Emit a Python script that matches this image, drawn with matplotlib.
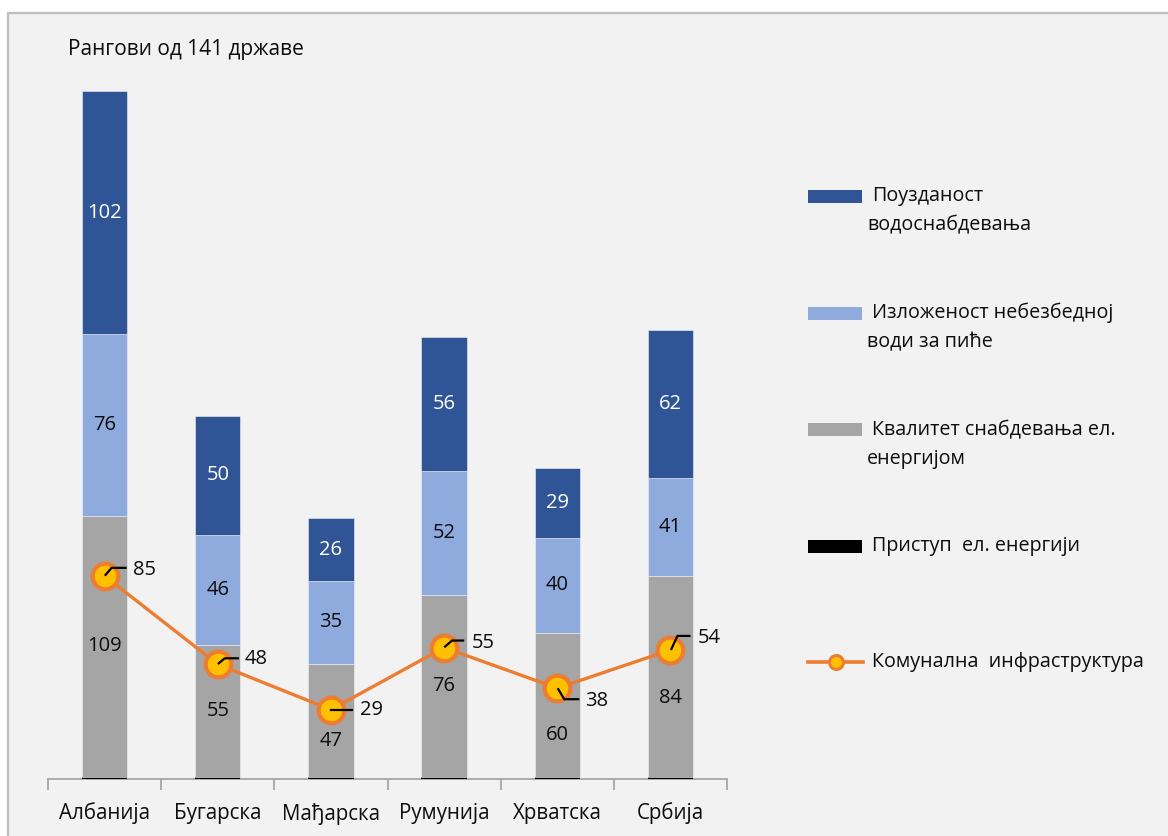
import matplotlib
matplotlib.use("Agg")
import matplotlib.pyplot as plt
import matplotlib.transforms as mtransforms
from matplotlib.patches import Rectangle
from matplotlib.lines import Line2D

plt.rcParams['font.family'] = ['Open Sans', 'DejaVu Sans']

# ---- data -------------------------------------------------------------
countries = ["Албанија", "Бугарска", "Мађарска", "Румунија", "Хрватска", "Србија"]
access_electricity = [1, 1, 1, 1, 1, 1]          # Приступ ел. енергији
electricity_quality = [109, 55, 47, 76, 60, 84]  # Квалитет снабдевања ел. енергијом
unsafe_water = [76, 46, 35, 52, 40, 41]          # Изложеност небезбедној води за пиће
water_reliability = [102, 50, 26, 56, 29, 62]    # Поузданост водоснабдевања
utility_infrastructure = [85, 48, 29, 55, 38, 54]  # Комунална инфраструктура

legend_labels = [
    "Поузданост\nводоснабдевања",
    "Изложеност небезбедној\nводи за пиће",
    "Квалитет снабдевања ел.\nенергијом",
    "Приступ  ел. енергији",
    "Комунална  инфраструктура",
]
title = "Рангови од 141 државе"

# ---- style ------------------------------------------------------------
C_DARK = "#2f5597"
C_LIGHT = "#8faadc"
C_GRAY = "#a5a5a5"
C_BLACK = "#000000"
C_ORANGE = "#ed7d31"
C_YELLOW = "#ffc000"
BG = "#f2f2f2"
TXT = "#0d0d0d"
FS = 14.5
FS_LEG = 14.2

W, H = 1168, 836
fig = plt.figure(figsize=(W / 100, H / 100), dpi=100, facecolor="white")

# chart area panel with a thin border
fig.add_artist(Rectangle((8 / W, -0.1), 1.2, 1 - 13 / H + 0.1,
                         transform=fig.transFigure, facecolor=BG,
                         edgecolor="#bfbfbf", linewidth=1.6, zorder=0))

ax = fig.add_axes([48 / W, (H - 779) / H, 679 / W, 717 / H])
ax.set_facecolor("none")
ax.set_xlim(-0.5, len(countries) - 0.5)
ax.set_ylim(0, 300)

x = list(range(len(countries)))
bw = 0.4

# stacked bars
b0 = [0] * len(countries)
ax.bar(x, access_electricity, bw, bottom=b0, color=C_BLACK, zorder=2)
b1 = [a + b for a, b in zip(b0, access_electricity)]
gray_bars = ax.bar(x, electricity_quality, bw, bottom=b1, color=C_GRAY, zorder=2,
                   edgecolor=BG, linewidth=0.4)
b2 = [a + b for a, b in zip(b1, electricity_quality)]
light_bars = ax.bar(x, unsafe_water, bw, bottom=b2, color=C_LIGHT, zorder=2,
                    edgecolor=BG, linewidth=0.4)
b3 = [a + b for a, b in zip(b2, unsafe_water)]
dark_bars = ax.bar(x, water_reliability, bw, bottom=b3, color=C_DARK, zorder=2,
                   edgecolor=BG, linewidth=0.4)

ax.bar_label(light_bars, labels=[str(v) for v in unsafe_water], label_type="center",
             fontsize=FS, color=TXT, zorder=5)
ax.bar_label(dark_bars, labels=[str(v) for v in water_reliability], label_type="center",
             fontsize=FS, color="white", zorder=5)

# gray segment labels, some nudged down to clear the line markers (pixels)
gray_nudge = [0, 0, 21, 0, 30, 22]
for xi, base, v, dy in zip(x, b1, electricity_quality, gray_nudge):
    ax.annotate(str(v), xy=(xi, base + v / 2), xytext=(0, -dy), textcoords="offset pixels",
                ha="center", va="center", fontsize=FS, color=TXT, zorder=5)

# line series on the same rank scale
ax.plot(x, utility_infrastructure, color=C_ORANGE, linewidth=2.4, zorder=6,
        marker="o", markersize=18.5, markerfacecolor=C_YELLOW,
        markeredgecolor=C_ORANGE, markeredgewidth=3)

# leader lines and value labels (offsets in pixels, y downward)
leaders = [
    [(1, -1), (7, -8), (21, -8)],
    [(1, -1), (7, -6), (20, -6)],
    [(0, 0), (21, 0), (21, 0)],
    [(1, -1), (8, -7), (19, -7)],
    [(1, 1), (7, 11), (21, 11)],
    [(1, -1), (7, -14), (19, -14)],
]
label_pos = [(28, -6), (27, -5), (29, 0), (28, -5), (28, 13), (27, -12)]
for xi, v, pts, lp in zip(x, utility_infrastructure, leaders, label_pos):
    tr = mtransforms.Affine2D().scale(1, -1) + mtransforms.ScaledTranslation(xi, v, ax.transData)
    ax.add_line(Line2D([p[0] for p in pts], [p[1] for p in pts], transform=tr,
                       color="black", linewidth=1.6, zorder=7))
    ax.annotate(str(v), xy=(xi, v), xytext=(lp[0], -lp[1]), textcoords="offset pixels",
                ha="left", va="center", fontsize=FS, color=TXT, zorder=8)

# axes styling
for s in ("top", "right", "left"):
    ax.spines[s].set_visible(False)
ax.spines["bottom"].set_color("#a6a6a6")
ax.spines["bottom"].set_linewidth(1.3)
ax.spines["bottom"].set_zorder(1)
ax.set_yticks([])
ax.set_xticks(x)
ax.set_xticklabels(countries, fontsize=14.8, color=TXT)
ax.tick_params(axis="x", which="major", length=0, pad=17)
ax.set_xticks([i - 0.5 for i in range(len(countries) + 1)], minor=True)
ax.tick_params(axis="x", which="minor", length=8, width=1.3, color="#a6a6a6", direction="out")

# title
fig.text(68 / W, 1 - 50 / H, title, fontsize=15, color=TXT, ha="left", va="center")

# legend drawn in figure pixels
leg_y = [196, 313, 430, 546, 662]
leg_cols = [C_DARK, C_LIGHT, C_GRAY, C_BLACK]
for i, (lab, yy) in enumerate(zip(legend_labels, leg_y)):
    yf = 1 - yy / H
    if i < 4:
        fig.add_artist(Rectangle((808 / W, 1 - (yy + 6.5) / H), 54 / W, 13 / H,
                                 transform=fig.transFigure, facecolor=leg_cols[i],
                                 edgecolor="none", zorder=3))
    else:
        fig.add_artist(Line2D([808 / W, 863 / W], [yf, yf], transform=fig.transFigure,
                              color=C_ORANGE, linewidth=2.6, zorder=3))
        fig.add_artist(Line2D([835.5 / W], [yf], transform=fig.transFigure,
                              marker="o", markersize=10, markerfacecolor=C_YELLOW,
                              markeredgecolor=C_ORANGE, markeredgewidth=2.2, zorder=4))
    for j, line in enumerate(lab.split("\n")):
        fig.text((872 if j == 0 else 867) / W, 1 - (yy + 29 * j) / H, line,
                 fontsize=FS_LEG, color=TXT, ha="left", va="center")

fig.savefig("out.png", dpi=100, facecolor=fig.get_facecolor())
